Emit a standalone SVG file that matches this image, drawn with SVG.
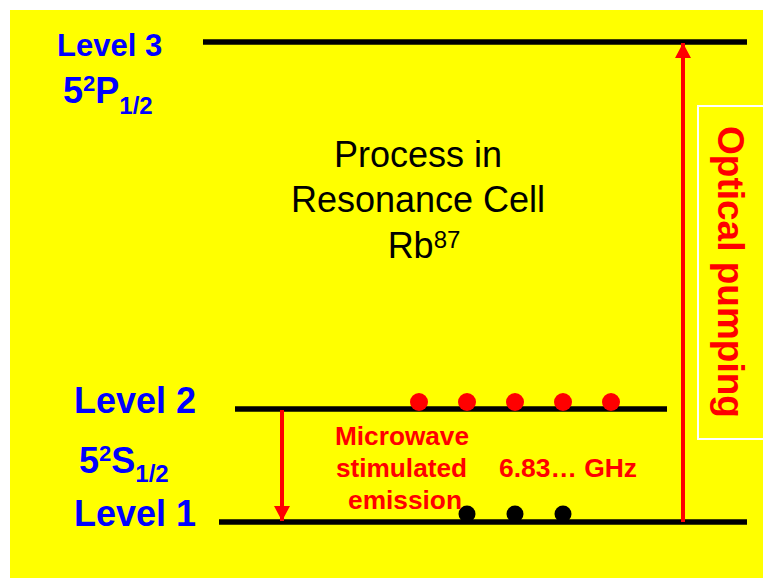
<svg xmlns="http://www.w3.org/2000/svg" width="763" height="578" viewBox="0 0 763 578">
<style>
.bg{fill:#FFFF00}
.lvl{stroke:#000;stroke-width:5.5}
.lbl{font-family:"Liberation Sans",Arial,sans-serif;font-weight:bold;fill:#0000FF}
.ctr{font-family:"Liberation Sans",Arial,sans-serif;font-size:36px;fill:#000;text-anchor:middle}
.red{font-family:"Liberation Sans",Arial,sans-serif;font-weight:bold;fill:#FF0000}
.mw{font-size:25px}
.arr{stroke:#FF0000;stroke-width:4;fill:none}
.rdot{fill:#FF0000}
.bdot{fill:#000}
</style>
<defs>
<marker id="ah" markerWidth="16" markerHeight="16" refX="15" refY="8" orient="auto" markerUnits="userSpaceOnUse">
<path d="M0,0 L15,8 L0,16 Z" fill="#FF0000"/>
</marker>
</defs>
<rect class="bg" x="10" y="10" width="753" height="568"/>
<g id="level3">
<line class="lvl" x1="203" y1="42" x2="747" y2="42"/>
<text class="lbl" x="57" y="56" font-size="31">Level 3</text>
<text class="lbl" x="63" y="103" font-size="36">5<tspan font-size="22" dy="-12">2</tspan><tspan dy="12">P</tspan><tspan font-size="24" dy="11">1/2</tspan></text>
</g>
<g id="level2">
<line class="lvl" x1="235" y1="409" x2="667" y2="409"/>
<text class="lbl" x="74" y="413" font-size="36">Level 2</text>
<circle class="rdot" cx="419" cy="402" r="9"/>
<circle class="rdot" cx="467" cy="402" r="9"/>
<circle class="rdot" cx="515" cy="402" r="9"/>
<circle class="rdot" cx="563" cy="402" r="9"/>
<circle class="rdot" cx="611" cy="402" r="9"/>
</g>
<g id="s-label">
<text class="lbl" x="79" y="473" font-size="36">5<tspan font-size="22" dy="-12">2</tspan><tspan dy="12">S</tspan><tspan font-size="24" dy="9">1/2</tspan></text>
</g>
<g id="level1">
<line class="lvl" x1="219" y1="522" x2="747" y2="522"/>
<text class="lbl" x="74" y="526" font-size="36">Level 1</text>
<circle class="bdot" cx="467" cy="514" r="8.5"/>
<circle class="bdot" cx="515" cy="514" r="8.5"/>
<circle class="bdot" cx="563" cy="514" r="8.5"/>
</g>
<g id="title">
<text class="ctr" x="418" y="167">Process in</text>
<text class="ctr" x="418" y="212">Resonance Cell</text>
<text class="ctr" x="424" y="258">Rb<tspan font-size="24" dy="-10">87</tspan></text>
</g>
<g id="optical-pumping">
<rect x="698" y="106" width="70" height="333" fill="none" stroke="#FFFFFF" stroke-width="2"/>
<text class="red" font-size="37" text-anchor="middle" transform="translate(718,272) rotate(90)">Optical pumping</text>
</g>
<g id="microwave">
<text class="red mw" x="335" y="445" textLength="134" lengthAdjust="spacingAndGlyphs">Microwave</text>
<text class="red mw" x="336" y="477" textLength="131" lengthAdjust="spacingAndGlyphs">stimulated</text>
<text class="red mw" x="348" y="509" textLength="114" lengthAdjust="spacingAndGlyphs">emission</text>
<text class="red mw" x="499" y="477" textLength="138" lengthAdjust="spacingAndGlyphs">6.83… GHz</text>
</g>
<g id="connectors">
<line class="arr" x1="282" y1="410" x2="282" y2="521" marker-end="url(#ah)"/>
<line class="arr" x1="683" y1="522" x2="683" y2="43" marker-end="url(#ah)"/>
</g>
</svg>
